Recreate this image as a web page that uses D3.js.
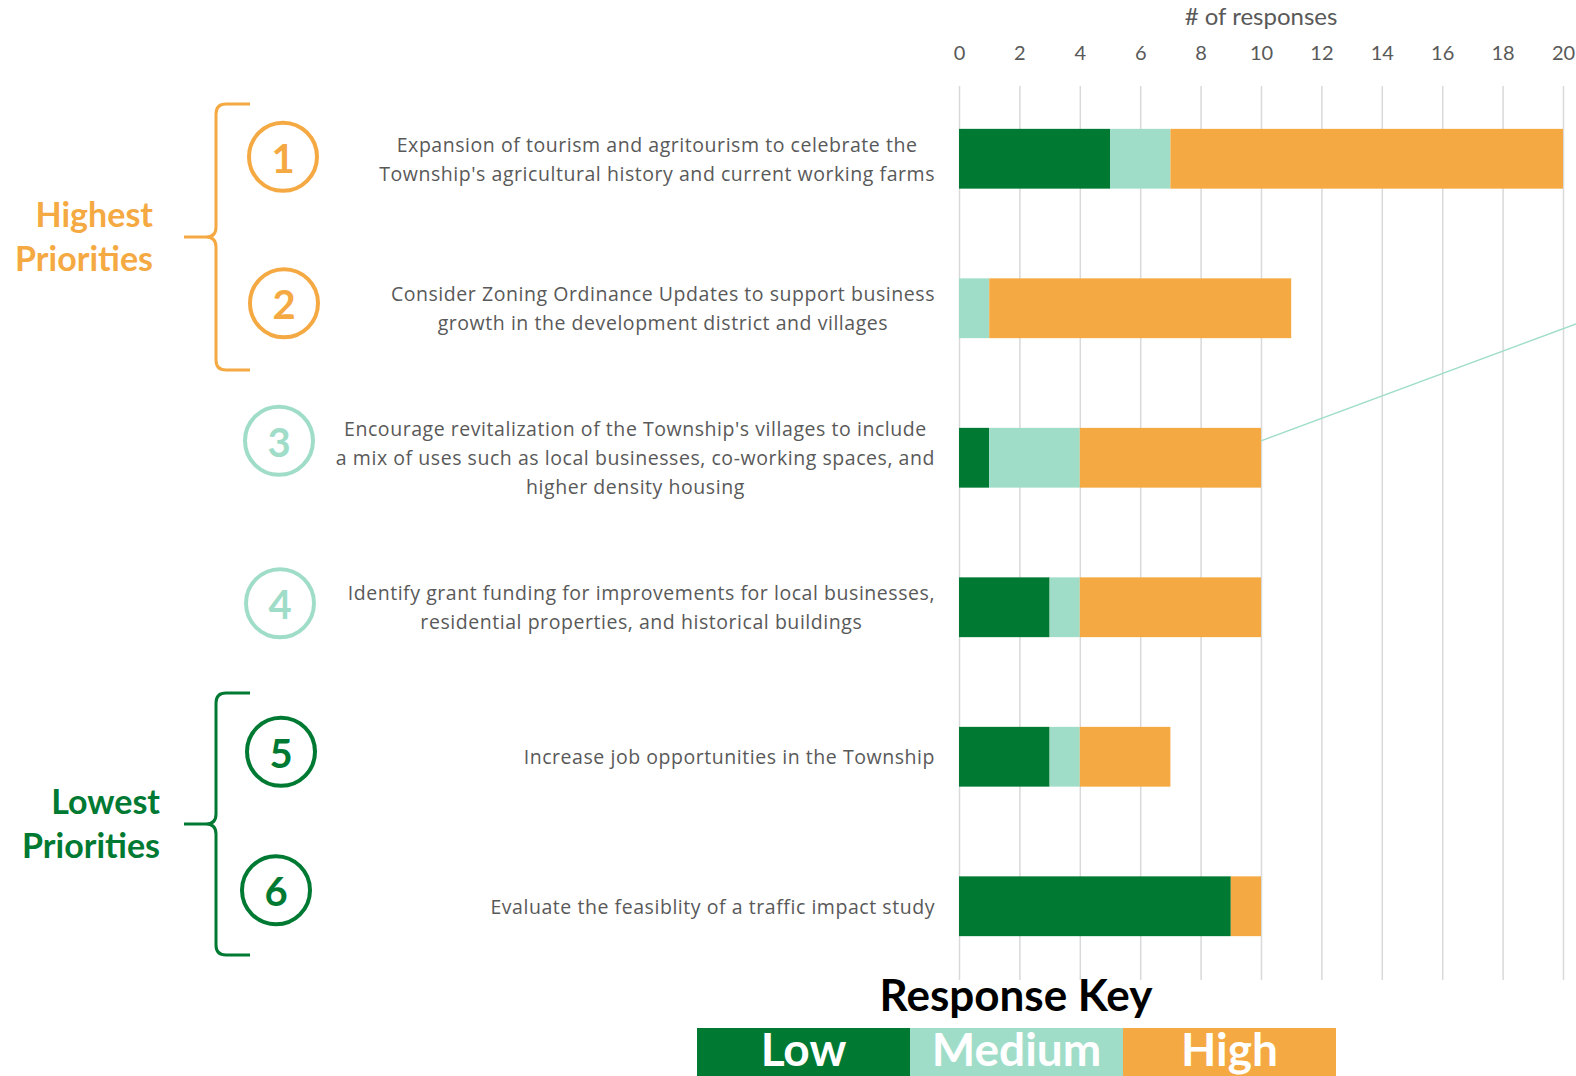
<!DOCTYPE html>
<html>
<head>
<meta charset="utf-8">
<script src="https://cdn.jsdelivr.net/npm/d3@7"></script>
<style>
  body { margin: 0; background: #fff; }
  svg { display: block; font-family: Lato, "Open Sans", sans-serif; }
</style>
</head>
<body>
<div id="chart"></div>
<script>
// --- data ---
const labels = [
  ["Expansion of tourism and agritourism to celebrate the", "Township's agricultural history and current working farms"],
  ["Consider Zoning Ordinance Updates to support business", "growth in the development district and villages"],
  ["Encourage revitalization of the Township's villages to include", "a mix of uses such as local businesses, co-working spaces, and", "higher density housing"],
  ["Identify grant funding for improvements for local businesses,", "residential properties, and historical buildings"],
  ["Increase job opportunities in the Township"],
  ["Evaluate the feasiblity of a traffic impact study"]
];
const ranks = [1, 2, 3, 4, 5, 6];
const lowVals = [5, 0, 1, 3, 3, 9];
const mediumVals = [2, 1, 3, 1, 1, 0];
const highVals = [13, 10, 6, 6, 3, 1];
const keys = ["Low", "Medium", "High"];
const tickVals = [0, 2, 4, 6, 8, 10, 12, 14, 16, 18, 20];
const groups = [
  { name: ["Highest", "Priorities"], from: 1, to: 2 },
  { name: ["Lowest", "Priorities"], from: 5, to: 6 }
];

const width = 1576, height = 1076;
const colors = { Low: "#007A33", Medium: "#A0DDC9", High: "#F5A942" };
const rankColor = r => r <= 2 ? colors.High : r <= 4 ? colors.Medium : colors.Low;
const textGray = "#595959";

const svg = d3.select("#chart").append("svg")
  .attr("width", width)
  .attr("height", height);

const rows = ranks.map((r, i) => ({
  rank: r, lines: labels[i],
  Low: lowVals[i], Medium: mediumVals[i], High: highVals[i]
}));

const x = d3.scaleLinear().domain([0, 20]).range([959, 1563]);
const y = d3.scaleBand()
  .domain(ranks)
  .range([84, 981])
  .paddingInner(0.6)
  .paddingOuter(0.3);

// gridlines
svg.append("g")
  .attr("transform", `translate(0,980)`)
  .call(d3.axisTop(x).tickValues(tickVals).tickSize(894).tickFormat(""))
  .call(g => g.select(".domain").remove())
  .call(g => g.selectAll("line").attr("stroke", "#D9D9D9").attr("stroke-width", 1.5));

// tick labels on top
svg.append("g")
  .attr("transform", `translate(0,60)`)
  .call(d3.axisTop(x).tickValues(tickVals).tickSize(0).tickPadding(0))
  .call(g => g.select(".domain").remove())
  .call(g => g.selectAll("text")
    .attr("fill", textGray)
    .attr("font-size", 20)
    .attr("font-family", "Lato, sans-serif"));

svg.append("text")
  .attr("x", x(10))
  .attr("y", 25)
  .attr("text-anchor", "middle")
  .attr("fill", textGray)
  .attr("font-size", 24)
  .text("# of responses");

// stacked bars
const stacked = d3.stack().keys(keys)(rows);
svg.append("g").selectAll("g")
  .data(stacked)
  .join("g")
  .attr("fill", d => colors[d.key])
  .selectAll("rect")
  .data(d => d)
  .join("rect")
  .attr("x", d => x(d[0]))
  .attr("y", d => y(d.data.rank))
  .attr("width", d => x(d[1]) - x(d[0]))
  .attr("height", y.bandwidth());

// leader line from bar 3 running off the right edge
const r3 = rows[2];
svg.append("line")
  .attr("x1", x(r3.Low + r3.Medium + r3.High))
  .attr("y1", y(3) + 13)
  .attr("x2", width)
  .attr("y2", 324)
  .attr("stroke", colors.Medium)
  .attr("stroke-width", 1.5);

// category labels: block right-aligned, lines centred inside it
const labelRight = 935;
const lineH = 29;
rows.forEach(d => {
  const g = svg.append("g");
  const cy = y(d.rank) + y.bandwidth() / 2;
  const t = g.selectAll("text")
    .data(d.lines)
    .join("text")
    .attr("fill", textGray)
    .attr("font-family", "'Open Sans', sans-serif")
    .attr("font-size", 19.5)
    .attr("letter-spacing", 0.55)
    .attr("text-anchor", "middle")
    .attr("dominant-baseline", "central")
    .attr("y", (s, i) => cy + (i - (d.lines.length - 1) / 2) * lineH)
    .text(s => s);
  const maxW = d3.max(t.nodes(), n => n.getComputedTextLength());
  t.attr("x", labelRight - maxW / 2);
});

// rank circles
const circX = [283, 284, 279, 280, 281, 276];
const circYOff = [-2, -5, -17, -4, -5, -16];
rows.forEach((d, i) => {
  const cy = y(d.rank) + y.bandwidth() / 2 + circYOff[i];
  svg.append("circle")
    .attr("cx", circX[i]).attr("cy", cy).attr("r", 34)
    .attr("fill", "none")
    .attr("stroke", rankColor(d.rank))
    .attr("stroke-width", 4);
  svg.append("text")
    .attr("x", circX[i]).attr("y", cy + 1)
    .attr("text-anchor", "middle")
    .attr("dominant-baseline", "central")
    .attr("font-size", 40)
    .attr("font-weight", "bold")
    .attr("fill", rankColor(d.rank))
    .text(d.rank);
});

// curly brackets + group names
const bracketTops = [104, 693];
const bracketBottoms = [370, 955];
groups.forEach((gr, i) => {
  const top = bracketTops[i], bot = bracketBottoms[i];
  const mid = (top + bot) / 2;
  const col = rankColor(gr.from);
  const bx = 216, ex = 250, tip = 184, r = 10;
  const p = `M${ex},${top} L${bx + r},${top} Q${bx},${top} ${bx},${top + r}
    L${bx},${mid - r} Q${bx},${mid} ${bx - r},${mid} L${tip},${mid}
    M${bx - r},${mid} Q${bx},${mid} ${bx},${mid + r}
    L${bx},${bot - r} Q${bx},${bot} ${bx + r},${bot} L${ex},${bot}`;
  svg.append("path")
    .attr("d", p)
    .attr("fill", "none")
    .attr("stroke", col)
    .attr("stroke-width", 3);
  svg.append("g").selectAll("text")
    .data(gr.name)
    .join("text")
    .attr("x", i === 0 ? 153 : 160)
    .attr("y", (s, j) => mid - 24 + j * 44)
    .attr("text-anchor", "end")
    .attr("dominant-baseline", "central")
    .attr("font-size", 34)
    .attr("font-weight", "bold")
    .attr("fill", col)
    .text(s => s);
});

// response key
svg.append("text")
  .attr("x", 1016)
  .attr("y", 994)
  .attr("text-anchor", "middle")
  .attr("dominant-baseline", "central")
  .attr("font-size", 44)
  .attr("font-weight", "bold")
  .attr("fill", "#000")
  .text("Response Key");

const kx = d3.scaleBand().domain(keys).range([697, 1336]);
const key = svg.append("g").selectAll("g")
  .data(keys)
  .join("g");
key.append("rect")
  .attr("x", d => kx(d))
  .attr("y", 1028)
  .attr("width", kx.bandwidth())
  .attr("height", 60)
  .attr("fill", d => colors[d]);
key.append("text")
  .attr("x", d => kx(d) + kx.bandwidth() / 2)
  .attr("y", 1066)
  .attr("text-anchor", "middle")
  .attr("font-size", 46)
  .attr("font-weight", "bold")
  .attr("fill", "#fff")
  .text(d => d);
</script>
</body>
</html>
